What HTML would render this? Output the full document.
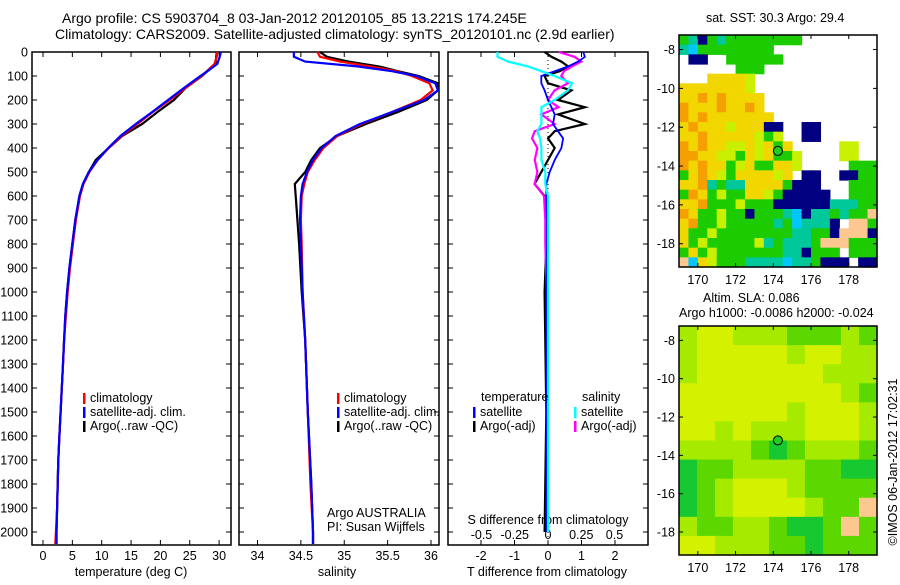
<!DOCTYPE html>
<html><head><meta charset="utf-8"><style>
body{margin:0;background:#fff;width:900px;height:580px;overflow:hidden}
svg{font-family:"Liberation Sans",sans-serif;font-size:12.5px}
</style></head><body>
<svg id="fig" width="900" height="580" viewBox="0 0 900 580">
<text x="62" y="23" font-size="14">Argo profile: CS 5903704_8 03-Jan-2012 20120105_85 13.221S 174.245E</text>
<text x="55" y="39" font-size="14">Climatology: CARS2009. Satellite-adjusted climatology: synTS_20120101.nc (2.9d earlier)</text>
<text x="706" y="22">sat. SST: 30.3 Argo: 29.4</text>
<text x="703" y="302">Altim. SLA: 0.086</text>
<text x="679" y="317">Argo h1000: -0.0086 h2000: -0.024</text>
<text transform="translate(897,462) rotate(-90)" text-anchor="middle">©IMOS 06-Jan-2012 17:02:31</text>
<g id="g"></g>
</svg>
<script>
// ---- data ----
const tDepth=[0,20,50,80,100,150,200,250,300,350,400,450,500,550,600,700,800,900,1000,1100,1200,1300,1400,1500,1600,1700,1800,1900,2000,2050];
const tClim=[29.7,29.6,29.2,27.9,27.0,24.3,21.6,18.7,16.1,13.4,11.2,9.3,7.9,6.9,6.3,5.6,5.1,4.6,4.2,3.9,3.6,3.4,3.2,3.0,2.8,2.6,2.5,2.4,2.2,2.1];
const tSat=[30.3,30.1,29.7,28.0,26.8,24.0,21.3,18.6,15.8,13.2,11.1,9.3,7.8,6.8,6.2,5.5,5.0,4.5,4.1,3.8,3.6,3.4,3.2,3.0,2.8,2.6,2.5,2.4,2.3,2.3];
const tArgo=[29.6,29.5,29.4,28.0,27.1,24.3,22.3,19.5,16.9,13.5,11.2,9.0,7.8,6.8,6.2,5.5,5.0,4.5,4.1,3.8,3.6,3.4,3.2,3.0,2.8,2.6,2.5,2.4,2.3,2.3];
const sDepth=[0,20,40,60,80,100,130,160,200,250,300,350,400,450,500,550,600,700,800,1000,1200,1500,1800,2000,2050];
const sClim=[34.69,34.72,34.95,35.30,35.60,35.78,35.98,36.02,35.88,35.55,35.20,34.92,34.76,34.66,34.58,34.54,34.51,34.50,34.51,34.52,34.55,34.58,34.61,34.64,34.64];
const sSat=[34.42,34.42,34.55,35.15,35.55,35.83,36.05,36.08,35.92,35.55,35.18,34.90,34.74,34.64,34.57,34.52,34.50,34.49,34.50,34.52,34.55,34.58,34.62,34.64,34.64];
const sArgo=[34.72,34.80,35.05,35.40,35.62,35.86,36.08,36.08,35.95,35.62,35.25,34.92,34.72,34.62,34.55,34.43,34.44,34.46,34.48,34.51,34.55,34.58,34.62,34.64,34.64];
const dDepth=[0,20,40,60,80,100,130,160,200,230,260,300,330,360,400,450,500,550,600,700,800,1000,1500,2000];
const dTSat=[1.05,1.1,0.9,0.6,0.2,-0.2,-0.2,-0.1,0.0,0.1,0.2,0.15,0.3,0.45,0.4,0.2,0.05,-0.05,-0.05,-0.03,-0.03,-0.05,-0.05,-0.05];
const dTArgo=[-0.1,0.1,0.4,0.6,0.35,-0.1,0.0,0.7,0.3,1.1,0.3,1.1,0.2,0.0,0.2,0.0,-0.2,-0.4,-0.1,-0.05,-0.05,-0.1,-0.05,-0.1];
const dSSat=[-0.38,-0.38,-0.3,-0.15,-0.05,0.05,0.18,0.15,0.05,-0.05,-0.05,-0.05,-0.08,-0.06,-0.05,-0.05,-0.02,-0.02,0.0,0.0,0.0,0.0,0.0,0.0];
const dSArgo=[0.08,0.2,0.25,0.18,0.12,0.1,0.15,0.05,0.0,0.08,-0.05,0.05,-0.1,-0.12,-0.08,-0.1,-0.08,-0.1,-0.03,-0.02,-0.02,-0.01,0.0,0.0];
const depthTicks=[0,100,200,300,400,500,600,700,800,900,1000,1100,1200,1300,1400,1500,1600,1700,1800,1900,2000];
const tempTicks=[0,5,10,15,20,25,30];
const salTicks=[34,34.5,35,35.5,36];
const tdTicks=[-2,-1,0,1,2];
const sdTicks=[-0.5,-0.25,0,0.25,0.5];
const sdLabels=["-0.5","-0.25","0","0.25","0.5"];
const sstGrid=[
"gtngtgggggggg........","tcgggggggg...........",".nn..gggggg..........","......ggg............",
"...yyyyl.............","yyyyyyyl.............","yyoyoyyyy............","oyyyoyyoy............",
"oyoyyyyyyy...........","yoyyylyyynn..nn......","yyoyyyyylgl..nn......","oyoyyllylygy.....ll..",
"ooyyllgylyggl....ll..","oyoyyglyggyyl.....ggg","gyoylgyyyyly.nn..nngg","yyotgttyyyygnnn...ggg",
"goyglggyylgnnnnn..ggg","yyoggglgggnnnnnntttgg","oygglggngggtcnttgtggb","yogglgggggtgctttn.bbg",
"ygglggggggggttggnbbbn","yglgggggltgtttgbbbggg","gyglgggggggttnggg.ggg","bcylgggttttcttgnnn.nn"];
const slaGrid=["lyylllggglg","lyyyyylyyll","lyyyyyyylll","yyyyyyyyylg","yyyyyylyyyl","yylylllyyyl",
"llllgGglllg","GggllllggGG","Gglyyylgggg","Gglyyyylggb","lggllgGGgbg","yylllggGggg"];
const lonTicks=[170,172,174,176,178];
const latTicks=[-8,-10,-12,-14,-16,-18];
const argoLon=[174.245], argoLat=[-13.221];
// ---- helpers ----
const NS="http://www.w3.org/2000/svg", G=document.getElementById('g');
function el(t,a,txt){const e=document.createElementNS(NS,t);for(const k in a)e.setAttribute(k,a[k]);if(txt!==undefined)e.textContent=txt;G.appendChild(e);return e;}
const yD=d=>52+d*0.24;
function frame(x0,x1,name){const r=el('rect',{x:x0,y:52,width:x1-x0,height:493,fill:'none',stroke:'#000','stroke-width':1.5});

depthTicks.forEach(d=>{el('line',{x1:x0,x2:x0+5,y1:yD(d),y2:yD(d),stroke:'#000'});el('line',{x1:x1-5,x2:x1,y1:yD(d),y2:yD(d),stroke:'#000'});});}
function line(xs,ds,sx,col,name,w){const p=xs.map((v,i)=>(i?'L':'M')+sx(v).toFixed(1)+','+yD(ds[i]).toFixed(1)).join('');
const e=el('path',{d:p,fill:'none',stroke:col,'stroke-width':w||2.2});}
depthTicks.forEach(d=>{const t=el('text',{x:28,y:yD(d)+4.5,'text-anchor':'end'},String(d));});
// panel 1
const xT=v=>43+v*5.87;
frame(32,231,'temperature-panel');
tempTicks.forEach(v=>{el('line',{x1:xT(v),x2:xT(v),y1:545,y2:540,stroke:'#000'});el('line',{x1:xT(v),x2:xT(v),y1:52,y2:57,stroke:'#000'});
const t=el('text',{x:xT(v),y:560,'text-anchor':'middle'},String(v));});
el('text',{x:131,y:576,'text-anchor':'middle'},'temperature (deg C)');
line(tArgo,tDepth,xT,'#000','temp-argo-line');line(tClim,tDepth,xT,'#f00','temp-climatology-line');line(tSat,tDepth,xT,'#00f','temp-satellite-line');
// panel 2
const xS=v=>257.5+(v-34)*86.75;
frame(239,439,'salinity-panel');
salTicks.forEach(v=>{el('line',{x1:xS(v),x2:xS(v),y1:545,y2:540,stroke:'#000'});el('line',{x1:xS(v),x2:xS(v),y1:52,y2:57,stroke:'#000'});
const t=el('text',{x:xS(v),y:560,'text-anchor':'middle'},String(v));});
el('text',{x:337,y:576,'text-anchor':'middle'},'salinity');
line(sArgo,sDepth,xS,'#000','sal-argo-line');line(sClim,sDepth,xS,'#f00','sal-climatology-line');line(sSat,sDepth,xS,'#00f','sal-satellite-line');
function leg(x,y,col,txt,name){el('rect',{x:x,y:y-9,width:2.5,height:11,fill:col});const t=el('text',{x:x+7,y:y},txt);}
[['climatology','#f00'],['satellite-adj. clim.','#00f'],["Argo(..raw -QC)",'#000']].forEach((a,i)=>leg(83,402+i*14,a[1],a[0],'temp-legend-entry'));
[['climatology','#f00'],['satellite-adj. clim.','#00f'],["Argo(..raw -QC)",'#000']].forEach((a,i)=>leg(337,402+i*14,a[1],a[0],'sal-legend-entry'));
el('text',{x:327,y:517},'Argo AUSTRALIA');
el('text',{x:327,y:531},'PI: Susan Wijffels');
// panel 3
const xdT=v=>548+v*33.5, xdS=v=>548+v*133;
frame(448,648,'difference-panel');
tdTicks.forEach(v=>{el('line',{x1:xdT(v),x2:xdT(v),y1:545,y2:540,stroke:'#000'});el('line',{x1:xdT(v),x2:xdT(v),y1:52,y2:57,stroke:'#000'});
const t=el('text',{x:xdT(v),y:560,'text-anchor':'middle'},String(v));});
sdTicks.forEach((v,i)=>{const t=el('text',{x:xdS(v),y:539,'text-anchor':'middle'},sdLabels[i]);});
el('text',{x:548,y:524,'text-anchor':'middle'},'S difference from climatology');
el('text',{x:547,y:576,'text-anchor':'middle'},'T difference from climatology');
el('line',{x1:548,x2:548,y1:52,y2:545,stroke:'#000','stroke-dasharray':'1,3'});
line(dTArgo,dDepth,xdT,'#000','tdiff-argo-line');line(dSArgo,dDepth,xdS,'#f0f','sdiff-argo-line');
line(dTSat,dDepth,xdT,'#00f','tdiff-satellite-line',1.8);line(dSSat,dDepth,xdS,'#0ff','sdiff-satellite-line');
el('text',{x:481,y:401},'temperature');
el('text',{x:582,y:401},'salinity');
leg(473,416,'#00f','satellite','tdiff-legend-entry');leg(473,430,'#000','Argo(-adj)','tdiff-legend-entry');
leg(574,416,'#0ff','satellite','sdiff-legend-entry');leg(574,430,'#f0f','Argo(-adj)','sdiff-legend-entry');
// maps
const sstCol={o:'#f5a000',y:'#f2d600',l:'#c8f000',g:'#1ccc00',t:'#00c89a',n:'#000080',c:'#00c8ff',b:'#fcc890','.':'#fff'};
const slaCol={y:'#d4f200',l:'#a6ea00',g:'#5cd800',G:'#18c830',b:'#fcc890'};
function map(grid,cols,y0,y1,name){const x0=679,x1=877;const lon=v=>x0+(v-169)*(x1-x0)/10.5;const lat=v=>y0+(-7.25-v)*(y1-y0)/11.95;
const nr=grid.length,nc=grid[0].length,cw=(x1-x0)/nc,ch=(y1-y0)/nr;
grid.forEach((row,r)=>{for(let c=0;c<nc;c++){const k=row[c];if(k==='.')continue;const e=el('rect',{x:(x0+c*cw).toFixed(2),y:(y0+r*ch).toFixed(2),width:(cw+0.6).toFixed(2),height:(ch+0.6).toFixed(2),fill:cols[k]});
}});
const f=el('rect',{x:x0,y:y0,width:x1-x0,height:y1-y0,fill:'none',stroke:'#000','stroke-width':1.5});
lonTicks.forEach(v=>{el('line',{x1:lon(v),x2:lon(v),y1:y1,y2:y1-4,stroke:'#000'});el('line',{x1:lon(v),x2:lon(v),y1:y0,y2:y0+4,stroke:'#000'});
const t=el('text',{x:lon(v),y:y1+17,'text-anchor':'middle'},String(v));});
latTicks.forEach(v=>{el('line',{x1:x0,x2:x0+4,y1:lat(v),y2:lat(v),stroke:'#000'});el('line',{x1:x1-4,x2:x1,y1:lat(v),y2:lat(v),stroke:'#000'});
const t=el('text',{x:x0-4,y:lat(v)+4.5,'text-anchor':'end'},String(v));});
const m=el('circle',{cx:lon(argoLon[0]),cy:lat(argoLat[0]),r:4.5,fill:'#22cc22',stroke:'#000'});}
map(sstGrid,sstCol,35,267,'sst-map');
map(slaGrid,slaCol,326,555,'sla-map');
</script>
</body></html>
